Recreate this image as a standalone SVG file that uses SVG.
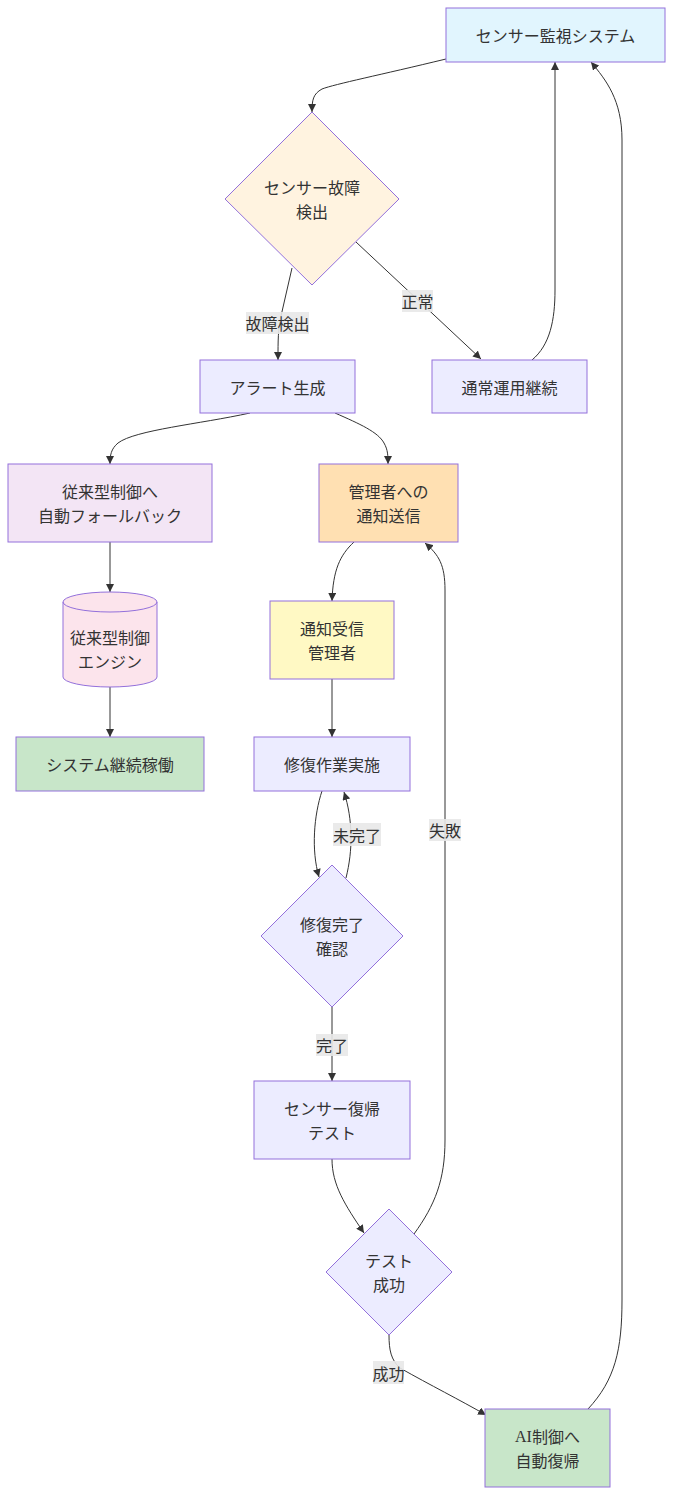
<svg xmlns="http://www.w3.org/2000/svg" width="674" height="1495" viewBox="0 0 674 1495">
<style>
.n{stroke:#9370DB;stroke-width:1;}
.t{font-family:"Noto Sans CJK JP","Noto Sans",sans-serif;font-size:16px;fill:#333;text-anchor:middle;dominant-baseline:central;}
.e{fill:none;stroke:#333;stroke-width:1;}
.lb{fill:#e8e8e8;fill-opacity:0.9;}
</style>
<defs>
<marker id="ah" viewBox="0 0 10 10" refX="10" refY="5" markerWidth="8" markerHeight="8" markerUnits="userSpaceOnUse" orient="auto">
<path d="M0,0 L10,5 L0,10 z" fill="#333"/>
</marker>
</defs>
<rect width="674" height="1495" fill="#fff"/>
<g id="edges">
<path class="e" marker-end="url(#ah)" d="M446,59 C380,75 335,84 322,89 C313,94 312,100 312,112"/>
<path class="e" marker-end="url(#ah)" d="M292,268 L281,316 C278,330 278,340 278,360"/>
<path class="e" marker-end="url(#ah)" d="M356,242 L481,359"/>
<path class="e" marker-end="url(#ah)" d="M532,360 C550,345 555,320 555,290 L555,62"/>
<path class="e" marker-end="url(#ah)" d="M588,1409 C615,1380 622,1350 622,1300 L622,140 C622,100 606,80 591,62"/>
<path class="e" marker-end="url(#ah)" d="M250,413 C200,424 135,430 118,443 C111,449 110,455 110,464"/>
<path class="e" marker-end="url(#ah)" d="M335,413 C360,424 378,432 384,443 C388,450 388,456 388,464"/>
<path class="e" marker-end="url(#ah)" d="M110,542 L110,592"/>
<path class="e" marker-end="url(#ah)" d="M110,687 L110,737"/>
<path class="e" marker-end="url(#ah)" d="M354,542 C340,555 333,570 332,601"/>
<path class="e" marker-end="url(#ah)" d="M332,679 L332,737"/>
<path class="e" marker-end="url(#ah)" d="M322,791 C314,815 311,850 319,877"/>
<path class="e" marker-end="url(#ah)" d="M346,878 C353,850 353,820 344,792"/>
<path class="e" marker-end="url(#ah)" d="M332,1007 L332,1081"/>
<path class="e" marker-end="url(#ah)" d="M332,1159 C332,1185 345,1205 364,1233"/>
<path class="e" marker-end="url(#ah)" d="M414,1234 C435,1205 445,1180 445,1140 L445,590 C445,565 439,555 425,543"/>
<path class="e" marker-end="url(#ah)" d="M389,1335 C389,1350 391,1360 400,1368 C430,1385 460,1400 486,1415"/>
<rect class="lb" x="246" y="312" width="63" height="22"/>
<text class="t" x="277.5" y="323">故障検出</text>
<rect class="lb" x="402" y="290" width="31" height="22"/>
<text class="t" x="417.5" y="301">正常</text>
<rect class="lb" x="333" y="823" width="48" height="23"/>
<text class="t" x="357" y="834.5">未完了</text>
<rect class="lb" x="429" y="819" width="32" height="22"/>
<text class="t" x="445" y="830">失敗</text>
<rect class="lb" x="316" y="1034" width="32" height="22"/>
<text class="t" x="332" y="1045">完了</text>
<rect class="lb" x="373" y="1361" width="31" height="23"/>
<text class="t" x="388.5" y="1372.5">成功</text>
</g>
<g id="n_monitor">
<rect class="n" x="446" y="8" width="219" height="54" fill="#E1F5FE"/>
<text class="t" x="555.5" y="35">センサー監視システム</text>
</g>
<g id="n_detect">
<polygon class="n" points="312,112 399,199 312,285 225,199" fill="#FFF3E0"/>
<text class="t" x="312" y="187">センサー故障</text>
<text class="t" x="312" y="211">検出</text>
</g>
<g id="n_alert">
<rect class="n" x="200" y="360" width="155" height="53" fill="#ECECFF"/>
<text class="t" x="277.5" y="386.5">アラート生成</text>
</g>
<g id="n_normal">
<rect class="n" x="432" y="360" width="155" height="53" fill="#ECECFF"/>
<text class="t" x="509.5" y="386.5">通常運用継続</text>
</g>
<g id="n_fallback">
<rect class="n" x="8" y="464" width="204" height="78" fill="#F3E5F5"/>
<text class="t" x="110" y="491">従来型制御へ</text>
<text class="t" x="110" y="515">自動フォールバック</text>
</g>
<g id="n_notify">
<rect class="n" x="319" y="464" width="139" height="78" fill="#FFE0B2"/>
<text class="t" x="388.5" y="491">管理者への</text>
<text class="t" x="388.5" y="515">通知送信</text>
</g>
<g id="n_engine">
<path class="n" d="M63,602 A47,10 0 0 1 157,602 L157,677 A47,10 0 0 1 63,677 Z" fill="#FCE4EC"/>
<path class="n" d="M63,602 A47,10 0 0 0 157,602" fill="none"/>
<text class="t" x="110" y="637">従来型制御</text>
<text class="t" x="110" y="661">エンジン</text>
</g>
<g id="n_receive">
<rect class="n" x="270" y="601" width="124" height="78" fill="#FFF9C4"/>
<text class="t" x="332" y="628">通知受信</text>
<text class="t" x="332" y="652">管理者</text>
</g>
<g id="n_continue">
<rect class="n" x="16" y="737" width="188" height="54" fill="#C8E6C9"/>
<text class="t" x="110" y="764">システム継続稼働</text>
</g>
<g id="n_repair">
<rect class="n" x="254" y="737" width="156" height="54" fill="#ECECFF"/>
<text class="t" x="332" y="764">修復作業実施</text>
</g>
<g id="n_check">
<polygon class="n" points="332,865 403,936 332,1007 261,936" fill="#ECECFF"/>
<text class="t" x="332" y="924">修復完了</text>
<text class="t" x="332" y="948">確認</text>
</g>
<g id="n_test">
<rect class="n" x="254" y="1081" width="156" height="78" fill="#ECECFF"/>
<text class="t" x="332" y="1108">センサー復帰</text>
<text class="t" x="332" y="1132">テスト</text>
</g>
<g id="n_success">
<polygon class="n" points="389,1209 452,1272 389,1335 326,1272" fill="#ECECFF"/>
<text class="t" x="389" y="1260">テスト</text>
<text class="t" x="389" y="1284">成功</text>
</g>
<g id="n_ai">
<rect class="n" x="485" y="1409" width="125" height="78" fill="#C8E6C9"/>
<text class="t" x="547.5" y="1436"><tspan font-family="Liberation Serif">AI</tspan>制御へ</text>
<text class="t" x="547.5" y="1460">自動復帰</text>
</g>
</svg>
